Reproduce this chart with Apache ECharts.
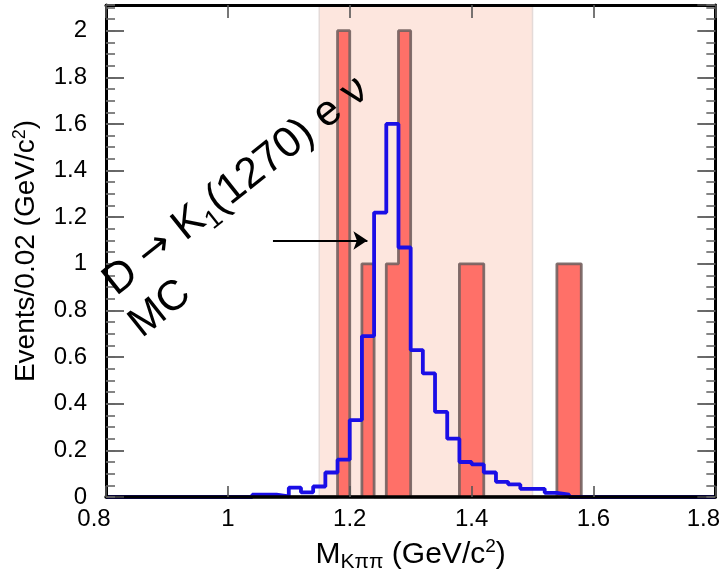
<!DOCTYPE html>
<html>
<head>
<meta charset="utf-8">
<script src="https://cdn.jsdelivr.net/npm/echarts@6/dist/echarts.min.js"></script>
<style>
  html, body { margin: 0; padding: 0; background: #ffffff; }
  #chart { width: 723px; height: 578px; }
</style>
</head>
<body>
<div id="chart"></div>
<script>
// Histogram binning: 50 bins of 0.02 GeV/c^2 from 0.8 to 1.8
const binStart = 0.8;
const binWidth = 0.02;
const binCount = 50;

// Observed candidates per bin
const dataCounts = [
  0, 0, 0, 0, 0, 0, 0, 0, 0, 0,
  0, 0, 0, 0, 0, 0, 0, 0, 0, 2,
  0, 1, 0, 1, 2, 0, 0, 0, 0, 1,
  1, 0, 0, 0, 0, 0, 0, 1, 1, 0,
  0, 0, 0, 0, 0, 0, 0, 0, 0, 0
];

// Simulated D -> K1(1270) e nu shape per bin
const mcShape = [
  0, 0, 0, 0, 0, 0, 0, 0, 0, 0,
  0, 0, 0.01, 0.01, 0.003, 0.04, 0.02, 0.045, 0.105, 0.16,
  0.33, 0.69, 1.22, 1.60, 1.07, 0.63, 0.53, 0.365, 0.25, 0.15,
  0.14, 0.105, 0.065, 0.054, 0.035, 0.035, 0.018, 0.01, 0, 0,
  0, 0, 0, 0, 0, 0, 0, 0, 0, 0
];

// Signal window
const signalWindow = [1.15, 1.50];

// Arrow pointing at the simulated curve
const arrowFrom = [1.074, 1.10];
const arrowTo = [1.229, 1.10];

const xTickLabels = ['0.8', '1', '1.2', '1.4', '1.6', '1.8'];
const yTickLabels = ['0', '0.2', '0.4', '0.6', '0.8', '1', '1.2', '1.4', '1.6', '1.8', '2'];

const FONT = '"Liberation Sans", Arial, Helvetica, sans-serif';

// Step-line points at bin low edges, closed at the upper range edge
function stepPoints(values) {
  const pts = [];
  for (let i = 0; i < binCount; i++) {
    pts.push([+(binStart + i * binWidth).toFixed(2), values[i]]);
  }
  pts.push([+(binStart + binCount * binWidth).toFixed(2), values[binCount - 1]]);
  return pts;
}

const chart = echarts.init(document.getElementById('chart'), null, { renderer: 'canvas' });

const yRange = { min: 0, max: 2.11 };

function yAxisDef(position, interval, tickLen, tickColor, withLabels, withLine) {
  return {
    type: 'value',
    position: position,
    min: yRange.min,
    max: yRange.max,
    interval: interval,
    z: 10,
    axisLine: { show: withLine, onZero: false, lineStyle: { color: '#000', width: 3 } },
    axisTick: { show: true, inside: true, length: tickLen, lineStyle: { color: tickColor, width: 1.6 } },
    axisLabel: {
      show: withLabels,
      showMaxLabel: false,
      margin: 19,
      fontSize: 24,
      fontFamily: FONT,
      color: '#000',
      formatter: function (v, i) { return yTickLabels[i] !== undefined ? yTickLabels[i] : ''; }
    },
    splitLine: { show: false }
  };
}

const option = {
  animation: false,
  backgroundColor: '#ffffff',
  grid: { left: 106, right: 6, top: 5, bottom: 80, containLabel: false },
  xAxis: [
    {
      type: 'value',
      position: 'bottom',
      min: 0.8,
      max: 1.8,
      interval: 0.2,
      z: 10,
      name: 'M{sub|Kππ} (GeV/c{sup|2})',
      nameLocation: 'middle',
      nameGap: 40,
      nameTextStyle: {
        fontSize: 30,
        fontFamily: FONT,
        color: '#000',
        lineHeight: 36,
        rich: {
          sub: { fontSize: 21, fontFamily: FONT, color: '#000', verticalAlign: 'bottom', lineHeight: 36 },
          sup: { fontSize: 19, fontFamily: FONT, color: '#000', verticalAlign: 'top', lineHeight: 36 }
        }
      },
      axisLine: { show: true, onZero: false, lineStyle: { color: '#000', width: 3.5 } },
      axisTick: { show: true, inside: true, length: 11, lineStyle: { color: '#555', width: 1.6 } },
      axisLabel: {
        margin: 10,
        fontSize: 24,
        fontFamily: FONT,
        color: '#000',
        formatter: function (v, i) {
          const t = xTickLabels[i] !== undefined ? xTickLabels[i] : '';
          return (i === 0 || i === xTickLabels.length - 1) ? '{edge|' + t + '}' : t;
        },
        rich: {
          edge: { fontSize: 24, fontFamily: FONT, color: '#000', padding: [0, 24, 0, 0] }
        }
      },
      splitLine: { show: false }
    },
    {
      type: 'value',
      position: 'top',
      min: 0.8,
      max: 1.8,
      interval: 0.2,
      z: 10,
      axisLine: { show: true, onZero: false, lineStyle: { color: '#000', width: 3 } },
      axisTick: { show: true, inside: true, length: 13, lineStyle: { color: '#555', width: 1.6 } },
      axisLabel: { show: false },
      splitLine: { show: false }
    }
  ],
  yAxis: [
    Object.assign(yAxisDef('left', 0.2, 18, '#444', true, true), {
      name: 'Events/0.02 (GeV/c{sup|2})',
      nameLocation: 'middle',
      nameGap: 63,
      nameRotate: 90,
      nameTextStyle: {
        fontSize: 28,
        fontFamily: FONT,
        color: '#000',
        lineHeight: 32,
        rich: {
          sup: { fontSize: 18, fontFamily: FONT, color: '#000', verticalAlign: 'top', lineHeight: 32 }
        }
      }
    }),
    yAxisDef('left', 0.05, 9, '#666', false, false),
    yAxisDef('right', 0.2, 18, '#444', false, true),
    yAxisDef('right', 0.05, 9, '#666', false, false)
  ],
  series: [
    {
      // signal window shading
      name: 'window',
      type: 'line',
      z: 1,
      data: [],
      silent: true,
      markArea: {
        silent: true,
        itemStyle: { color: '#fde6de', borderColor: '#e4dad8', borderWidth: 1.5 },
        data: [[{ xAxis: signalWindow[0] }, { xAxis: signalWindow[1] }]]
      }
    },
    {
      name: 'Data',
      type: 'line',
      z: 3,
      step: 'end',
      showSymbol: false,
      silent: true,
      data: stepPoints(dataCounts),
      lineStyle: { color: 'rgba(115, 98, 96, 0.9)', width: 2.8 },
      areaStyle: { color: '#ff7068', opacity: 1 }
    },
    {
      name: 'MC',
      type: 'line',
      z: 4,
      step: 'end',
      showSymbol: false,
      silent: true,
      data: stepPoints(mcShape),
      lineStyle: { color: '#1a0ee6', width: 3.8 },
      markLine: {
        silent: true,
        symbol: ['none', 'arrow'],
        symbolSize: 14,
        label: { show: false },
        lineStyle: { color: '#000', width: 2, type: 'solid' },
        emphasis: { disabled: true },
        data: [[{ coord: arrowFrom }, { coord: arrowTo }]]
      }
    }
  ],
  graphic: [
    {
      type: 'text',
      x: 236,
      y: 186,
      rotation: 38.5 * Math.PI / 180,
      z: 20,
      style: {
        text: 'D {a|→} K{s|1}(1270) e ν',
        fontSize: 43,
        fontFamily: FONT,
        fill: '#000',
        align: 'center',
        verticalAlign: 'middle',
        rich: {
          a: { fontSize: 40, fontFamily: '"DejaVu Sans", sans-serif', fill: '#000', lineHeight: 52 },
          s: { fontSize: 26, fontFamily: FONT, fill: '#000', verticalAlign: 'bottom', lineHeight: 52 }
        }
      }
    },
    {
      type: 'text',
      x: 160,
      y: 309,
      rotation: 38.5 * Math.PI / 180,
      z: 20,
      style: {
        text: 'MC',
        fontSize: 42,
        fontFamily: FONT,
        fill: '#000',
        align: 'center',
        verticalAlign: 'middle'
      }
    }
  ]
};

chart.setOption(option);
</script>
</body>
</html>
